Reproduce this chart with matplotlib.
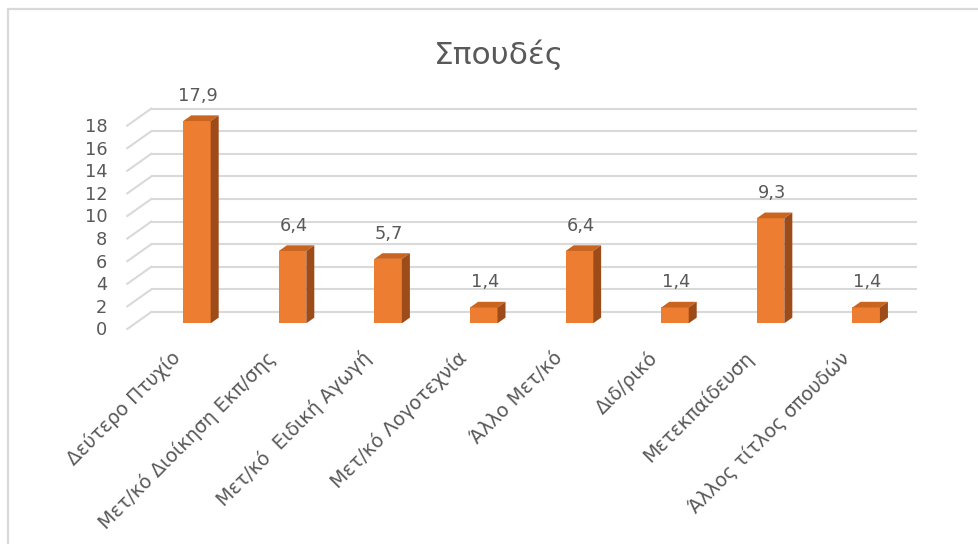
import matplotlib
matplotlib.use("Agg")
import matplotlib.pyplot as plt
from matplotlib.patches import Polygon, Rectangle

plt.rcParams['font.family'] = ['DejaVu Sans']

categories = ["Δεύτερο Πτυχίο", "Μετ/κό Διοίκηση Εκπ/σης", "Μετ/κό  Ειδική Αγωγή",
              "Μετ/κό Λογοτεχνία", "Άλλο Μετ/κό", "Διδ/ρικό", "Μετεκπαίδευση",
              "Άλλος τίτλος σπουδών"]
values = [17.9, 6.4, 5.7, 1.4, 6.4, 1.4, 9.3, 1.4]
value_labels = ["17,9", "6,4", "5,7", "1,4", "6,4", "1,4", "9,3", "1,4"]
yticks = [0, 2, 4, 6, 8, 10, 12, 14, 16, 18]
title = "Σπουδές"

W, H = 979, 544
fig = plt.figure(figsize=(W / 100, H / 100), dpi=100)

# axes geometry (pixels) -- bar plane
ax_left_px, ax_right_px = 135.3, 901.3
ax_bottom_px = 323.3          # image y of value 0 in bar plane
px_per_unit = 11.3
ymin, ymax = 0, 20
ax_h_px = (ymax - ymin) * px_per_unit
xmin, xmax = -0.645, 7.367

ax = fig.add_axes([ax_left_px / W, (H - ax_bottom_px) / H,
                   (ax_right_px - ax_left_px) / W, ax_h_px / H])
ax.set_xlim(xmin, xmax)
ax.set_ylim(ymin, ymax)
ax.axis('off')

PX = (xmax - xmin) / (ax_right_px - ax_left_px)   # data x per pixel
PY = 1.0 / px_per_unit                             # data y per pixel

grid_c = '#D9D9D9'
text_c = '#595959'
front_c = '#ED7D31'
top_c = '#C9651F'
side_c = '#9E4B1A'

# plane offsets relative to bar plane (pixels, display: up positive)
front_dx, front_dy = -8, -5.67
back_dx, back_dy = 16, 11.33
depth_dx, depth_dy = 8, 5.67

fs = 12.8

for v in yticks:
    ax.plot([xmin + back_dx * PX, xmax + back_dx * PX],
            [v + back_dy * PY, v + back_dy * PY],
            color=grid_c, lw=1.5, zorder=1, clip_on=False, solid_capstyle='butt')
    ax.plot([xmin + front_dx * PX, xmin + back_dx * PX],
            [v + front_dy * PY, v + back_dy * PY],
            color=grid_c, lw=1.5, zorder=1, clip_on=False)
    ax.text(xmin + (front_dx - 20) * PX, v + (front_dy - 1.5) * PY, str(v),
            ha='right', va='center', fontsize=fs, color=text_c)

bw = 0.287
xs = list(range(len(values)))
ax.bar(xs, values, width=bw, color=front_c, zorder=3, linewidth=0)
for x, v, lab in zip(xs, values, value_labels):
    l, r = x - bw / 2, x + bw / 2
    ax.add_patch(Polygon([(l, v), (r, v), (r + depth_dx * PX, v + depth_dy * PY),
                          (l + depth_dx * PX, v + depth_dy * PY)],
                         closed=True, facecolor=top_c, edgecolor='none', zorder=3))
    ax.add_patch(Polygon([(r, 0), (r, v), (r + depth_dx * PX, v + depth_dy * PY),
                          (r + depth_dx * PX, depth_dy * PY)],
                         closed=True, facecolor=side_c, edgecolor='none', zorder=3))
    ax.text(x + 1 * PX, v + 25 * PY, lab, ha='center', va='center',
            fontsize=fs, color=text_c)

for x, cat in zip(xs, categories):
    ax.text(x + (front_dx - 12) * PX, (front_dy - 26) * PY, cat,
            rotation=45, rotation_mode='anchor', ha='right', va='center',
            fontsize=13.8, color=text_c, clip_on=False)

fig.text(499 / W, 1 - 55 / H, title, ha='center', va='center',
         fontsize=22.5, color=text_c)

# chart frame
fig.patches.append(Rectangle((8 / W, -0.05), 1.2, 1 - 9 / H + 0.05,
                             transform=fig.transFigure, fill=False,
                             edgecolor='#D9D9D9', lw=1.6))

fig.savefig('out.png', dpi=100)
